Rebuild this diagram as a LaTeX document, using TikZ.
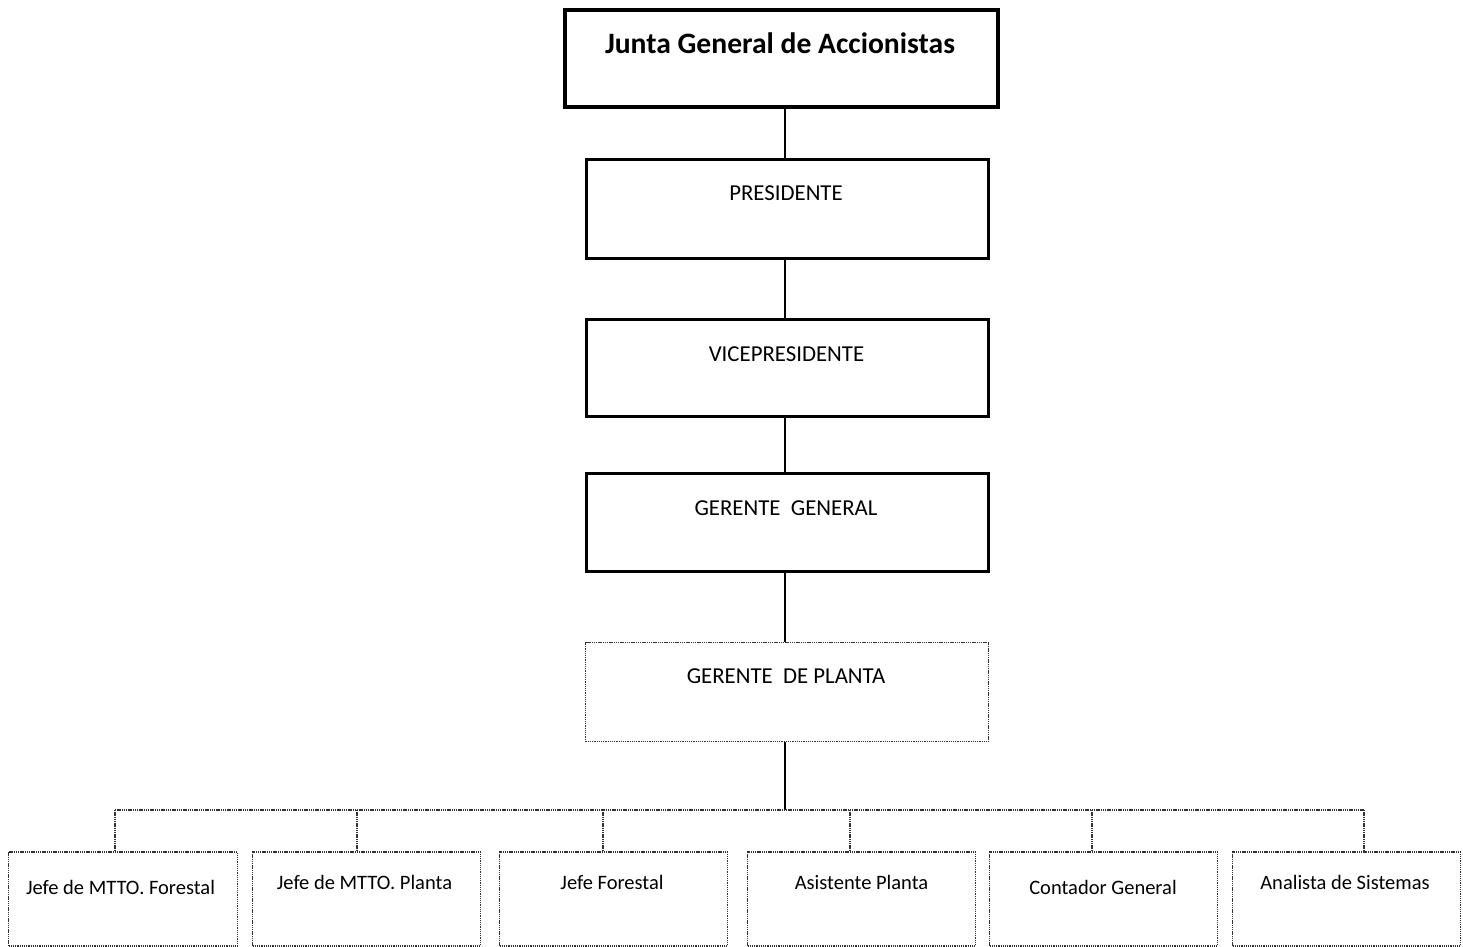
\documentclass[tikz,border=0pt]{standalone}
\usepackage{fontspec}
\setmainfont{Carlito}
\begin{document}
\begin{tikzpicture}[x=1pt,y=-1pt,
  solidbox/.style={draw, line width=3.5pt, inner sep=0pt},
  dotbox/.style={draw=black!80, line width=1.4pt, dash pattern=on 1.3pt off 0.9pt, inner sep=0pt},
  link/.style={line width=2pt},
  dotlink/.style={draw=black!80, line width=1.4pt, dash pattern=on 1.3pt off 0.9pt},
  toptxt/.style={anchor=base, inner sep=0pt, font=\fontsize{29.6}{34}\selectfont\bfseries},
  midtxt/.style={anchor=base, inner sep=0pt, font=\fontsize{22.8}{26}\selectfont},
  lowtxt/.style={anchor=base, inner sep=0pt, font=\fontsize{20.5}{24}\selectfont}]
\useasboundingbox (0,0) rectangle (1463,946);

% upper chain of solid boxes
\node[solidbox, line width=4pt, minimum width=433pt, minimum height=97pt] (junta) at (781.5,58) {};
\node[solidbox, minimum width=402pt, minimum height=99pt] (pres) at (787.5,209) {};
\node[solidbox, minimum width=402pt, minimum height=97pt] (vice) at (787.5,368) {};
\node[solidbox, minimum width=402pt, minimum height=98pt] (gg) at (787.5,522.5) {};
\node[dotbox, minimum width=403pt, minimum height=99pt] (gp) at (787,692) {};

\node[toptxt] (tjunta) at (780,53) {Junta General de Accionistas};
\node[midtxt] (tpres) at (786,200) {PRESIDENTE};
\node[midtxt] (tvice) at (786.5,361) {VICEPRESIDENTE};
\node[midtxt] (tgg) at (786,515) {GERENTE~~GENERAL};
\node[midtxt] (tgp) at (786,683) {GERENTE~~DE PLANTA};

\draw[link] (junta.south -| 785,0) -- (pres.north -| 785,0);
\draw[link] (pres.south -| 785,0) -- (vice.north -| 785,0);
\draw[link] (vice.south -| 785,0) -- (gg.north -| 785,0);
\draw[link] (gg.south -| 785,0) -- (gp.north -| 785,0);

% bottom row of staff boxes
\node[dotbox, minimum width=229pt, minimum height=94pt] (b1) at (123,899) {};
\node[dotbox, minimum width=228pt, minimum height=94pt] (b2) at (366.5,899) {};
\node[dotbox, minimum width=228pt, minimum height=94pt] (b3) at (613.5,899) {};
\node[dotbox, minimum width=228pt, minimum height=94pt] (b4) at (861.5,899) {};
\node[dotbox, minimum width=228pt, minimum height=94pt] (b5) at (1103.5,899) {};
\node[dotbox, minimum width=228pt, minimum height=94pt] (b6) at (1346.5,899) {};

\node[lowtxt] (t1) at (120.5,894) {Jefe de MTTO. Forestal};
\node[lowtxt] (t2) at (364.5,889) {Jefe de MTTO. Planta};
\node[lowtxt] (t3) at (612,889) {Jefe Forestal};
\node[lowtxt] (t4) at (861.5,889) {Asistente Planta};
\node[lowtxt] (t5) at (1103,894) {Contador General};
\node[lowtxt] (t6) at (1345,889) {Analista de Sistemas};

% distribution bar
\coordinate (hub) at (785,810);
\coordinate (barL) at (115,810);
\coordinate (barR) at (1364,810);
\draw[link] (gp.south -| hub) -- (hub);
\draw[dotlink] (barL) -- (barR);
\draw[dotlink] (barL) -- (b1.north -| barL);
\draw[dotlink] (357,810) -- (b2.north -| 357,0);
\draw[dotlink] (603,810) -- (b3.north -| 603,0);
\draw[dotlink] (850,810) -- (b4.north -| 850,0);
\draw[dotlink] (1092,810) -- (b5.north -| 1092,0);
\draw[dotlink] (barR) -- (b6.north -| barR);
\end{tikzpicture}
\end{document}
